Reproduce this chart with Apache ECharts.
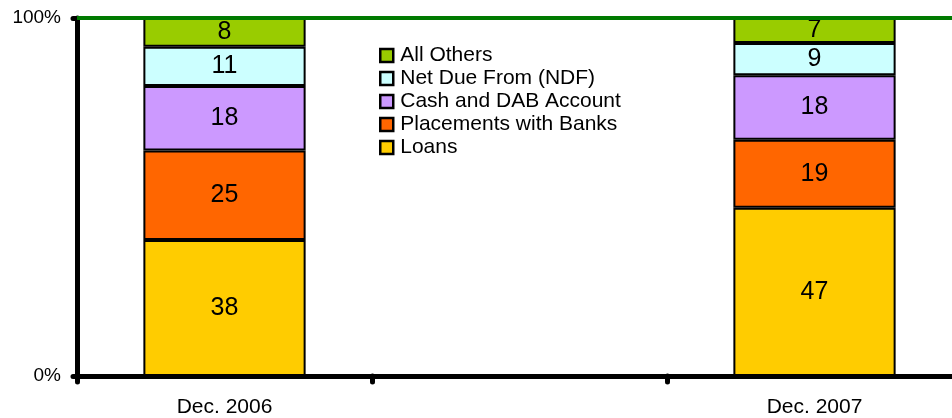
<!DOCTYPE html>
<html>
<head>
<meta charset="utf-8">
<script src="https://cdn.jsdelivr.net/npm/echarts@6/dist/echarts.min.js"></script>
<style>
  html, body { margin: 0; padding: 0; background: #fff; }
  #chart { width: 952px; height: 418px; }
</style>
</head>
<body>
<div id="chart"></div>
<script>
var categories = ["Dec. 2006", "", "Dec. 2007"];
var loans = [38, null, 47];
var placements = [25, null, 19];
var cashDab = [18, null, 18];
var netDue = [11, null, 9];
var allOthers = [8, null, 7];
var legendOrder = ["All Others", "Net Due From (NDF)", "Cash and DAB Account", "Placements with Banks", "Loans"];

var myChart = echarts.init(document.getElementById("chart"));

function makeSeries(name, data, color) {
  return {
    name: name,
    type: "bar",
    stack: "total",
    barWidth: "55%",
    data: data,
    itemStyle: { color: color, borderColor: "#000", borderWidth: 2 },
    label: {
      show: true,
      position: "inside",
      color: "#000",
      fontSize: 25,
      fontFamily: "Liberation Sans, Arial"
    }
  };
}

var series = [
  makeSeries("Loans", loans, "#FFCC00"),
  makeSeries("Placements with Banks", placements, "#FF6600"),
  makeSeries("Cash and DAB Account", cashDab, "#CC99FF"),
  makeSeries("Net Due From (NDF)", netDue, "#CCFFFF"),
  makeSeries("All Others", allOthers, "#99CC00")
];
// green line across the top at 100%
series[4].markLine = {
  silent: true,
  symbol: "none",
  label: { show: false },
  lineStyle: { color: "#007a00", width: 4, type: "solid" },
  data: [{ yAxis: 100 }]
};

myChart.setOption({
  animation: false,
  textStyle: { fontFamily: "Liberation Sans, Arial" },
  // plot runs a little past the right edge of the picture
  grid: { left: 77, width: 885, top: 18, bottom: 42, outerBoundsMode: "none" },
  legend: {
    data: legendOrder,
    orient: "vertical",
    left: 374,
    top: 39,
    itemWidth: 13,
    itemHeight: 13,
    itemGap: 0,
    icon: "rect",
    itemStyle: { borderColor: "#000", borderWidth: 2.5 },
    textStyle: { fontSize: 21, lineHeight: 23, color: "#000", padding: [0, 0, 0, 2] }
  },
  xAxis: {
    type: "category",
    data: categories,
    axisLine: { lineStyle: { color: "#000", width: 5 } },
    axisTick: { show: true, length: 6, lineStyle: { color: "#000", width: 5, cap: "round" } },
    axisLabel: { color: "#000", fontSize: 21, margin: 21 }
  },
  yAxis: {
    type: "value",
    min: 0,
    max: 100,
    interval: 100,
    axisLine: { show: true, lineStyle: { color: "#000", width: 5 } },
    axisTick: { show: true, length: 4, lineStyle: { color: "#000", width: 5, cap: "round" } },
    splitLine: { show: false },
    axisLabel: { color: "#000", fontSize: 19, margin: 16, formatter: "{value}%" }
  },
  series: series
});
</script>
</body>
</html>
